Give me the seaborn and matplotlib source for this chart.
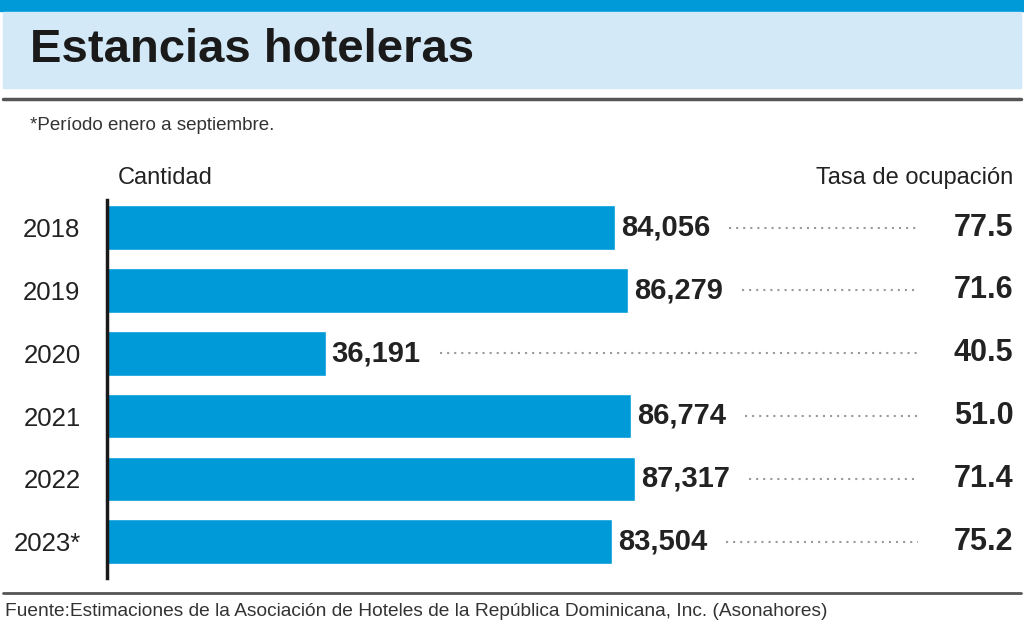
import numpy as np
import pandas as pd
import matplotlib
matplotlib.use("Agg")
import matplotlib.pyplot as plt
from matplotlib.patches import Rectangle
from matplotlib import font_manager
import seaborn as sns

# ─── Data ───────────────────────────────────────────────────────────────────
years = ["2018", "2019", "2020", "2021", "2022", "2023*"]
cantidad = [84056, 86279, 36191, 86774, 87317, 83504]
tasa = [77.5, 71.6, 40.5, 51.0, 71.4, 75.2]

TITLE = "Estancias hoteleras"
NOTE = "*Período enero a septiembre."
SOURCE = ("Fuente:Estimaciones de la Asociación de Hoteles de la República "
          "Dominicana, Inc. (Asonahores)")

# ─── Style ──────────────────────────────────────────────────────────────────
BLUE = "#009ad9"
PANEL = "#d4e9f7"
INK = "#222222"

sns.set_style("white")
names = {f.name for f in font_manager.fontManager.ttflist}
narrow = "Liberation Sans Narrow" if "Liberation Sans Narrow" in names else "Liberation Sans"
plt.rcParams["font.family"] = [narrow, "DejaVu Sans"]

W, H = 1024, 642
fig = plt.figure(figsize=(W / 100, H / 100), dpi=100)


def fy(px):
    return 1 - px / H


# ── Header panels ─────────────────────────────────────────────────────────
fig.patches.append(Rectangle((0, fy(11)), 1, 11 / H, transform=fig.transFigure,
                             color=BLUE, zorder=0))
fig.patches.append(Rectangle((3 / W, fy(88)), 1 - 6 / W, 76 / H, transform=fig.transFigure,
                             color=PANEL, zorder=0))
fig.add_artist(plt.Line2D([3 / W, 1 - 3 / W], [fy(99), fy(99)], transform=fig.transFigure,
                          color="#555555", lw=2.5))
fig.add_artist(plt.Line2D([3 / W, 1 - 3 / W], [fy(593), fy(593)], transform=fig.transFigure,
                          color="#555555", lw=2.0))

fig.text(30 / W, fy(50), TITLE, fontsize=34, fontweight="bold", color="#1a1a1a",
         va="center", ha="left")
fig.text(30 / W, fy(126), NOTE, fontsize=13.5, color="#333333", va="center", ha="left")
fig.text(5 / W, fy(612), SOURCE, fontsize=13.8, color="#333333", va="center", ha="left")

# ── Bars ──────────────────────────────────────────────────────────────────
px_per_unit = 508 / 84056
xmax = 150000
ax_left, ax_top, ax_bottom = 107, 200, 578
ax = fig.add_axes([ax_left / W, fy(ax_bottom), xmax * px_per_unit / W,
                   (ax_bottom - ax_top) / H])

df = pd.DataFrame({"year": years, "cantidad": cantidad, "tasa": tasa})
sns.barplot(data=df, x="cantidad", y="year", color=BLUE, width=0.71,
            saturation=1, ax=ax, zorder=2)

ax.set_xlim(0, xmax)
ax.set_ylim(5.58, -0.44)
ax.set_xlabel("")
ax.set_ylabel("")
ax.set_xticks([])
ax.tick_params(axis="y", length=0, pad=19, labelsize=18.5, labelcolor=INK)
for s in ["top", "right", "bottom"]:
    ax.spines[s].set_visible(False)
ax.spines["left"].set_color("#1a1a1a")
ax.spines["left"].set_linewidth(2.5)
ax.patch.set_alpha(0)

lead_end = (918 - ax_left) / px_per_unit
for i, (v, t) in enumerate(zip(cantidad, tasa)):
    ax.text(v + 6 / px_per_unit, i, f"{v:,}", fontsize=21, fontweight="bold",
            color=INK, va="center", ha="left")
    ax.plot([v + 114 / px_per_unit, lead_end], [i, i], ls=(0, (1, 2.4)),
            color="#9a9a9a", lw=1.5)
    ax.text(xmax, i, f"{t:.1f}", fontsize=22, fontweight="bold",
            color=INK, va="center", ha="right")

fig.text(118 / W, fy(178), "Cantidad", fontsize=17, color=INK, va="center", ha="left")
fig.text((ax_left + xmax * px_per_unit) / W, fy(178), "Tasa de ocupación",
         fontsize=17, color=INK, va="center", ha="right")

fig.savefig("out.png", dpi=100)
